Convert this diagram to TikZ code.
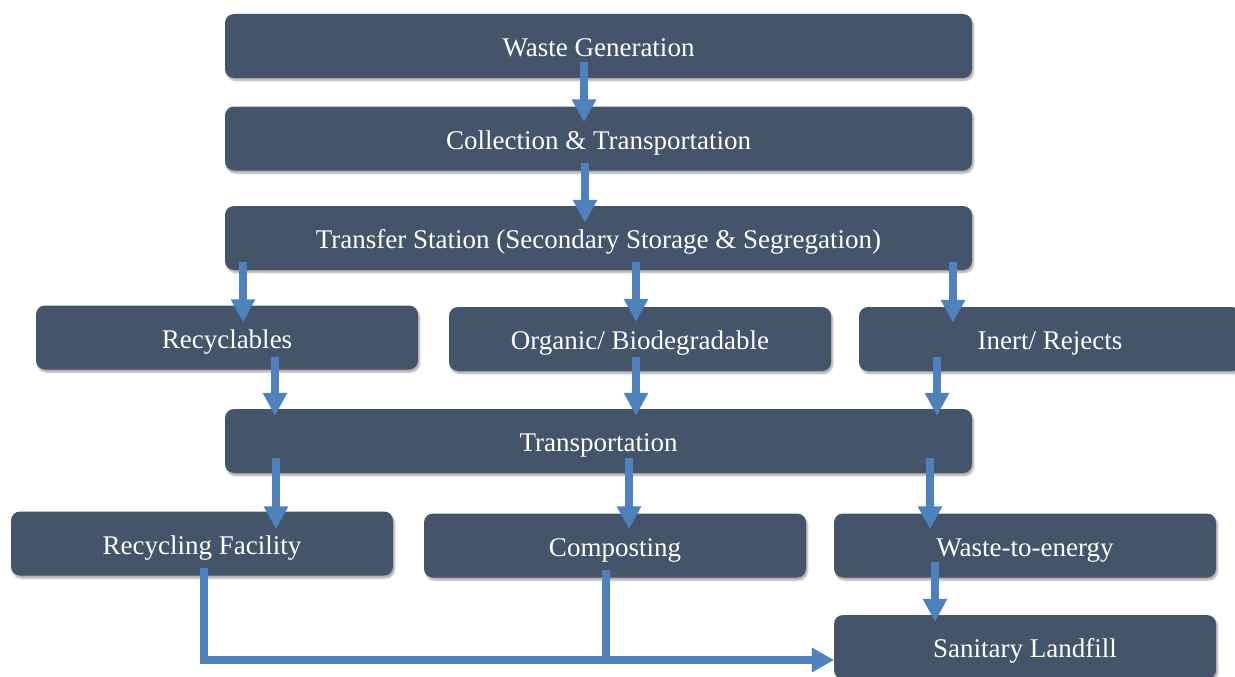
\documentclass[tikz,border=0pt]{standalone}
\usepackage{fontspec}
\setmainfont{Liberation Serif}
\usetikzlibrary{arrows.meta,shadows.blur}
\definecolor{boxc}{HTML}{44546A}
\definecolor{arrc}{HTML}{4F81BD}
\begin{document}
\begin{tikzpicture}[x=1pt,y=-1pt,
  box/.style={fill=boxc, rounded corners=9pt, text=white, inner sep=0pt,
    minimum height=64pt, text height=21pt, text depth=0pt,
    font=\fontsize{27}{30}\selectfont,
    blur shadow={shadow xshift=1.5pt, shadow yshift=-2.5pt, shadow blur steps=6, shadow opacity=35}},
  wide/.style={box, minimum width=747pt},
  narrow/.style={box, minimum width=382pt},
  arr/.style={draw=arrc, line width=8pt, -{Triangle[width=23pt,length=23pt]}},
  conn/.style={draw=arrc, line width=7.5pt, -{Triangle[width=23pt,length=22pt]}}]
\useasboundingbox (0,0) rectangle (1235,677);
\node[wide] (wg) at (598.5,46) {Waste Generation};
\node[wide] (ct) at (598.5,138.5) {Collection \& Transportation};
\node[wide] (ts) at (598.5,238) {Transfer Station (Secondary Storage \& Segregation)};
\node[narrow] (rec) at (227,337.5) {Recyclables};
\node[narrow] (org) at (640,339) {Organic/ Biodegradable};
\node[narrow] (inr) at (1050,339) {Inert/ Rejects};
\node[wide] (tr) at (598.5,441) {Transportation};
\node[narrow] (rf) at (202,543.5) {Recycling Facility};
\node[narrow] (cp) at (615,545.5) {Composting};
\node[narrow] (we) at (1025,545.5) {Waste-to-energy};
\node[narrow] (sl) at (1025,647) {Sanitary Landfill};
% arrows
\draw[arr] ([xshift=-14.5pt,yshift=16pt]wg.south) -- ([xshift=-14.5pt,yshift=-16pt]ct.north);
\draw[arr] ([xshift=-13.5pt,yshift=8pt]ct.south) -- ([xshift=-13.5pt,yshift=-17pt]ts.north);
\draw[arr] ([xshift=-355.5pt,yshift=8pt]ts.south) -- ([xshift=16pt,yshift=-17pt]rec.north);
\draw[arr] ([xshift=37.5pt,yshift=8pt]ts.south) -- ([xshift=-4pt,yshift=-15pt]org.north);
\draw[arr] ([xshift=354.5pt,yshift=8pt]ts.south) -- ([xshift=-97pt,yshift=-16pt]inr.north);
\draw[arr] ([xshift=48pt,yshift=13pt]rec.south) -- ([xshift=-323.5pt,yshift=-7pt]tr.north);
\draw[arr] ([xshift=-4pt,yshift=14pt]org.south) -- ([xshift=37.5pt,yshift=-7pt]tr.north);
\draw[arr] ([xshift=-113pt,yshift=14pt]inr.south) -- ([xshift=338.5pt,yshift=-7pt]tr.north);
\draw[arr] ([xshift=-322.5pt,yshift=15pt]tr.south) -- ([xshift=74pt,yshift=-18pt]rf.north);
\draw[arr] ([xshift=30.5pt,yshift=15pt]tr.south) -- ([xshift=14pt,yshift=-16pt]cp.north);
\draw[arr] ([xshift=331.5pt,yshift=15pt]tr.south) -- ([xshift=-95pt,yshift=-16pt]we.north);
\draw[arr] ([xshift=-90pt,yshift=16pt]we.south) -- ([xshift=-90pt,yshift=-7pt]sl.north);
\draw[conn] ([xshift=2pt,yshift=8pt]rf.south) |- ([yshift=-13pt]sl.west);
\draw[conn] ([xshift=-9pt,yshift=8pt]cp.south) |- ([yshift=-13pt]sl.west);
\end{tikzpicture}
\end{document}
